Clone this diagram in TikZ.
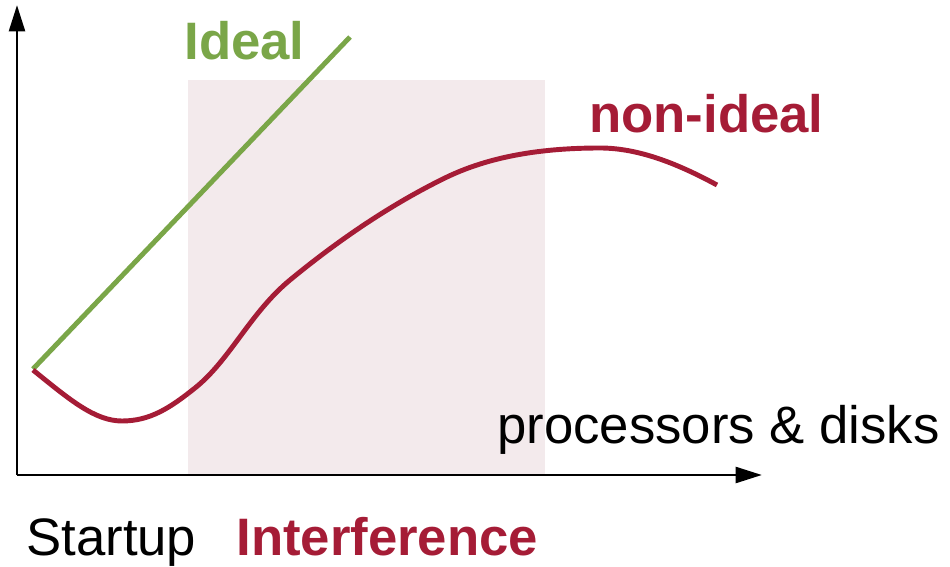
\documentclass[tikz,border=0pt]{standalone}
\usepackage{fontspec}
\setmainfont{Liberation Sans}
\usetikzlibrary{arrows.meta}
\definecolor{idealgreen}{HTML}{7AA648}
\definecolor{realred}{HTML}{A51C36}
\definecolor{zonepink}{HTML}{F3EAEC}
\begin{document}
\begin{tikzpicture}[x=0.02cm,y=-0.02cm]
\tikzstyle{every node}=[inner sep=0pt, anchor=base west, font=\fontsize{30}{36}\selectfont]
\tikzstyle{axis}=[line width=1.7pt, -{Triangle[length=15pt,width=9pt]}]
\tikzstyle{curve}=[line width=2.8pt]
\useasboundingbox (0,0) rectangle (950,567);
\fill[zonepink] (188,80) rectangle (545,475);
\coordinate (o) at (17,475);
\coordinate (ytip) at (17,5);
\coordinate (xtip) at (762,475);
\draw[axis] (o) -- (ytip);
\draw[axis] (o) -- (xtip);
\coordinate (s) at (33,369);
\coordinate (i) at (350,37);
\draw[curve, idealgreen] (s) -- (i);
\draw[curve, realred] (33,370) .. controls (70,400) and (95,421) .. (122,421)
  .. controls (150,421) and (170,408) .. (195,388)
  .. controls (230,360) and (250,313) .. (290,280)
  .. controls (330,247) and (385,207) .. (447,177)
  .. controls (495,154) and (550,148) .. (600,148)
  .. controls (640,148) and (680,165) .. (717,185);
\node (ideal) [text=idealgreen, font=\fontsize{30}{36}\selectfont\bfseries] at (184,60) {Ideal};
\node (nonideal) [text=realred, font=\fontsize{30}{36}\selectfont\bfseries] at (589,133) {non-ideal};
\node (pd) at (497,443) {processors \& disks};
\node (startup) at (26,555) {Startup};
\node (interf) [text=realred, font=\fontsize{30}{36}\selectfont\bfseries] at (236,555) {Interference};
\end{tikzpicture}
\end{document}
